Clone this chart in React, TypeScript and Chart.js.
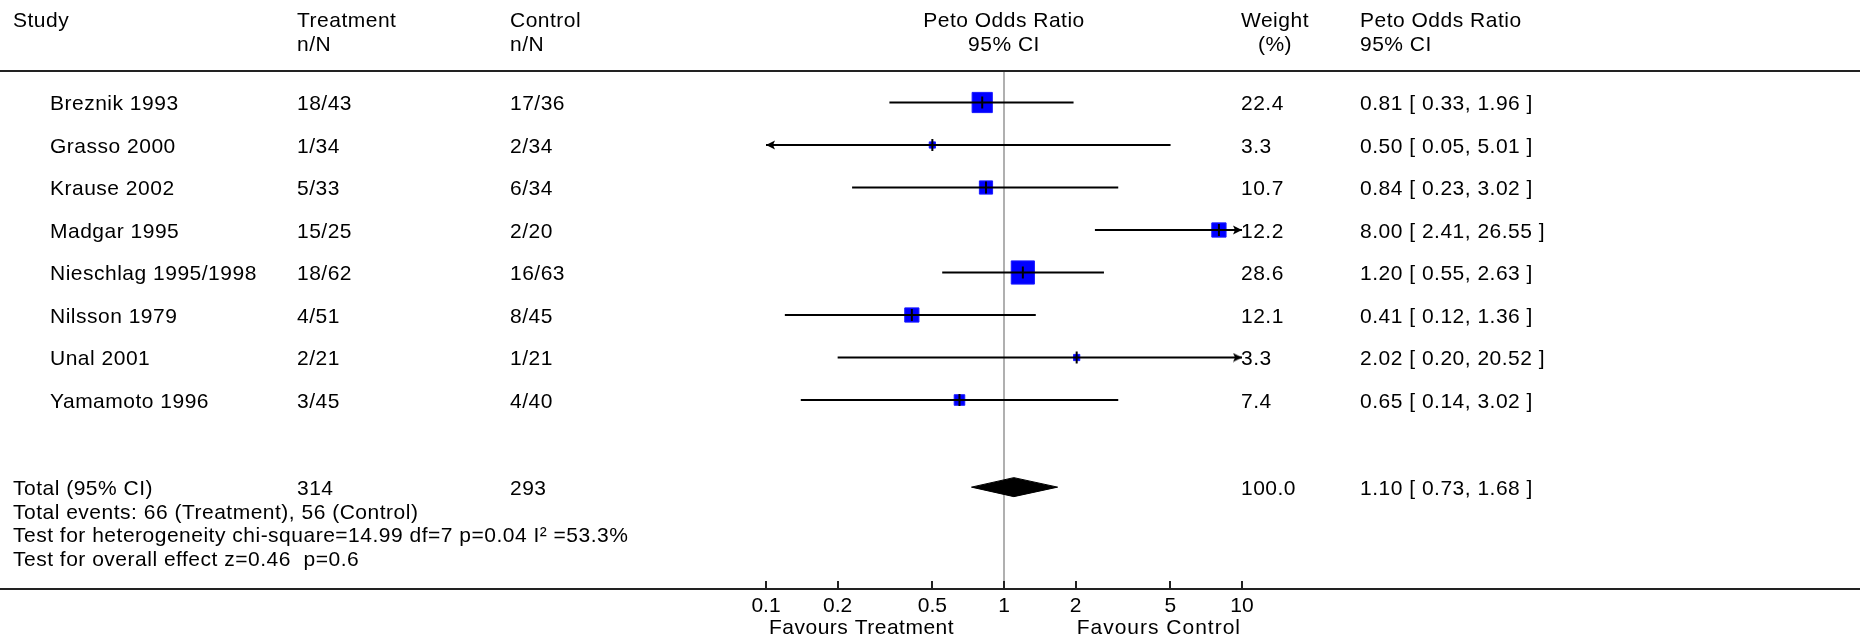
import React, { useEffect, useRef } from "react";
import { Chart, registerables } from "chart.js";

Chart.register(...registerables);

// ---------------- data ----------------
const studies = [
  "Breznik 1993",
  "Grasso 2000",
  "Krause 2002",
  "Madgar 1995",
  "Nieschlag 1995/1998",
  "Nilsson 1979",
  "Unal 2001",
  "Yamamoto 1996",
];
const treatmentNN = ["18/43", "1/34", "5/33", "15/25", "18/62", "4/51", "2/21", "3/45"];
const controlNN = ["17/36", "2/34", "6/34", "2/20", "16/63", "8/45", "1/21", "4/40"];
const oddsRatio = [0.81, 0.5, 0.84, 8.0, 1.2, 0.41, 2.02, 0.65];
const ciLower = [0.33, 0.05, 0.23, 2.41, 0.55, 0.12, 0.2, 0.14];
const ciUpper = [1.96, 5.01, 3.02, 26.55, 2.63, 1.36, 20.52, 3.02];
const weights = [22.4, 3.3, 10.7, 12.2, 28.6, 12.1, 3.3, 7.4];

const totalLabel = "Total (95% CI)";
const totalTreatment = "314";
const totalControl = "293";
const totalWeight = 100.0;
const pooledOR = 1.1;
const pooledLower = 0.73;
const pooledUpper = 1.68;
const footnotes = [
  "Total events: 66 (Treatment), 56 (Control)",
  "Test for heterogeneity chi-square=14.99 df=7 p=0.04 I\u00B2 =53.3%",
  "Test for overall effect z=0.46  p=0.6",
];

const xTicks = [0.1, 0.2, 0.5, 1, 2, 5, 10];
const axisLow = 0.1;
const axisHigh = 10;
const favoursLeft = "Favours Treatment";
const favoursRight = "Favours Control";

const headerStudy = "Study";
const headerTreatment = ["Treatment", "n/N"];
const headerControl = ["Control", "n/N"];
const headerPlot = ["Peto Odds Ratio", "95% CI"];
const headerWeight = ["Weight", "(%)"];
const headerCI = ["Peto Odds Ratio", "95% CI"];

// ---------------- layout ----------------
const W = 1860;
const H = 639;
const FONT_FAMILY = '"Liberation Sans", Arial, sans-serif';
const FONT_SIZE = 21;
const FONT = `${FONT_SIZE}px ${FONT_FAMILY}`;
const LETTER_SPACING = "0.5px";
const REF_X = 1004; // pixel of OR = 1
const DECADE_PX = 238; // pixels per decade
const HEADER_Y = 71;
const AXIS_Y = 589;
const ROW0_Y = 102.5;
const ROW_STEP = 42.5;
const TOTAL_ROW = 9.05;
const TICK_PAD = 5;
const LABEL_H = FONT_SIZE * 1.2;
const BOTTOM_PAD = H - AXIS_Y - (LABEL_H + 2 * TICK_PAD);

const X_MIN = Math.pow(10, (0 - REF_X) / DECADE_PX);
const X_MAX = Math.pow(10, (W - REF_X) / DECADE_PX);
const Y_MIN = -(ROW0_Y - HEADER_Y) / ROW_STEP;
const Y_MAX = Y_MIN + (AXIS_Y - HEADER_Y) / ROW_STEP;

const COL_STUDY = 13;
const COL_NAME = 50;
const COL_TREAT = 297;
const COL_CTRL = 510;
const COL_WEIGHT = 1241;
const COL_CI = 1360;
const HEAD_Y1 = 21;
const HEAD_Y2 = 45;
const FOOT_STEP = 23.7;
const FAVOURS_Y = 628;

const fmt2 = (v: number) => v.toFixed(2);
const ciText = (e: number, l: number, u: number) => `${fmt2(e)} [ ${fmt2(l)}, ${fmt2(u)} ]`;

function makeArrow(): HTMLCanvasElement {
  // arrow head whose tip sits exactly at the canvas centre, pointing right
  const c = document.createElement("canvas");
  c.width = 20;
  c.height = 10;
  const g = c.getContext("2d")!;
  g.fillStyle = "#000";
  g.beginPath();
  g.moveTo(10, 5);
  g.lineTo(1, 0.5);
  g.lineTo(3, 5);
  g.lineTo(1, 9.5);
  g.closePath();
  g.fill();
  return c;
}

const boxSide = (w: number) => Math.max(4, 4.8 * Math.sqrt(w) - 2.5);

export default function App() {
  const ref = useRef<HTMLCanvasElement | null>(null);

  useEffect(() => {
    const canvas = ref.current;
    if (!canvas) return;
    const arrow = makeArrow();
    const rows = studies.map((_, i) => i);

    const ciDatasets = rows.map((i) => ({
      label: "ci-" + i,
      data: [
        { x: Math.max(ciLower[i], axisLow), y: i },
        { x: Math.min(ciUpper[i], axisHigh), y: i },
      ],
      showLine: true,
      borderColor: "#000",
      borderWidth: 2,
      pointRadius: 0,
      order: 3,
    }));

    const arrowPts: { x: number; y: number }[] = [];
    const arrowRot: number[] = [];
    rows.forEach((i) => {
      if (ciLower[i] < axisLow) {
        arrowPts.push({ x: axisLow, y: i });
        arrowRot.push(180);
      }
      if (ciUpper[i] > axisHigh) {
        arrowPts.push({ x: axisHigh, y: i });
        arrowRot.push(0);
      }
    });

    const h = 9.5 / ROW_STEP;

    const tablePlugin = {
      id: "forestTable",
      afterDraw(chart: any) {
        const { ctx, scales } = chart;
        const x = scales.x;
        const y = scales.y;
        ctx.save();
        // header rule
        ctx.fillStyle = "#222";
        ctx.fillRect(0, HEADER_Y - 1, W, 2);
        // tick marks on axis
        ctx.strokeStyle = "#222";
        ctx.lineWidth = 2;
        x.ticks.forEach((t: any) => {
          const px = Math.round(x.getPixelForValue(t.value));
          ctx.beginPath();
          ctx.moveTo(px, chart.chartArea.bottom - 8);
          ctx.lineTo(px, chart.chartArea.bottom);
          ctx.stroke();
        });

        ctx.fillStyle = "#000";
        ctx.font = FONT;
        const setSpacing = (s: string) => {
          try {
            (ctx as any).letterSpacing = s;
          } catch (e) {}
        };
        setSpacing(LETTER_SPACING);
        ctx.textBaseline = "middle";
        const txt = (s: string, px: number, py: number, align: CanvasTextAlign = "left") => {
          ctx.textAlign = align;
          ctx.fillText(s, px, py);
        };
        // header
        const refPx = x.getPixelForValue(1);
        txt(headerStudy, COL_STUDY, HEAD_Y1);
        txt(headerTreatment[0], COL_TREAT, HEAD_Y1);
        txt(headerTreatment[1], COL_TREAT, HEAD_Y2);
        txt(headerControl[0], COL_CTRL, HEAD_Y1);
        txt(headerControl[1], COL_CTRL, HEAD_Y2);
        txt(headerPlot[0], refPx, HEAD_Y1, "center");
        txt(headerPlot[1], refPx, HEAD_Y2, "center");
        txt(headerWeight[0], COL_WEIGHT, HEAD_Y1);
        const wW = ctx.measureText(headerWeight[0]).width;
        txt(headerWeight[1], COL_WEIGHT + wW / 2, HEAD_Y2, "center");
        txt(headerCI[0], COL_CI, HEAD_Y1);
        txt(headerCI[1], COL_CI, HEAD_Y2);

        // study rows
        rows.forEach((i) => {
          const py = y.getPixelForValue(i) + 2;
          txt(studies[i], COL_NAME, py);
          txt(treatmentNN[i], COL_TREAT, py);
          txt(controlNN[i], COL_CTRL, py);
          txt(weights[i].toFixed(1), COL_WEIGHT, py);
          txt(ciText(oddsRatio[i], ciLower[i], ciUpper[i]), COL_CI, py);
        });

        // total row + footnotes
        const ty = y.getPixelForValue(TOTAL_ROW) + 2;
        txt(totalLabel, COL_STUDY, ty);
        txt(totalTreatment, COL_TREAT, ty);
        txt(totalControl, COL_CTRL, ty);
        txt(totalWeight.toFixed(1), COL_WEIGHT, ty);
        txt(ciText(pooledOR, pooledLower, pooledUpper), COL_CI, ty);
        footnotes.forEach((f, k) => txt(f, COL_STUDY, ty + FOOT_STEP * (k + 1)));

        // favours labels
        txt(favoursLeft, x.getPixelForValue(axisLow) + 3, FAVOURS_Y, "left");
        setSpacing("1px");
        const midRight = (x.getPixelForValue(2) + x.getPixelForValue(axisHigh)) / 2;
        txt(favoursRight, midRight, FAVOURS_Y, "center");
        ctx.restore();
      },
    };

    const chart = new Chart(canvas, {
      type: "scatter",
      data: {
        datasets: [
          {
            label: "pooled",
            data: [
              { x: pooledLower, y: TOTAL_ROW },
              { x: pooledOR, y: TOTAL_ROW - h },
              { x: pooledUpper, y: TOTAL_ROW },
              { x: pooledOR, y: TOTAL_ROW + h },
              { x: pooledLower, y: TOTAL_ROW },
            ],
            showLine: true,
            fill: "shape",
            tension: 0,
            backgroundColor: "#000",
            borderColor: "#000",
            borderWidth: 1,
            pointRadius: 0,
            order: 0,
          } as any,
          {
            label: "arrows",
            data: arrowPts,
            pointStyle: arrow as any,
            pointRotation: arrowRot as any,
            pointRadius: 5,
            order: 1,
          } as any,
          {
            label: "estimate ticks",
            data: rows.map((i) => ({ x: oddsRatio[i], y: i })),
            pointStyle: "line",
            pointRotation: 90,
            pointRadius: 6,
            pointBorderWidth: 2,
            pointBorderColor: "#000",
            order: 2,
          } as any,
          ...(ciDatasets as any[]),
          {
            label: "boxes",
            data: rows.map((i) => ({ x: oddsRatio[i], y: i })),
            pointStyle: "rect",
            pointRadius: rows.map((i) => boxSide(weights[i]) / Math.SQRT2),
            pointBackgroundColor: "#0000ff",
            pointBorderColor: "#1a1aff",
            pointBorderWidth: 1,
            order: 4,
          } as any,
          {
            label: "no effect",
            data: [
              { x: 1, y: Y_MIN },
              { x: 1, y: Y_MAX },
            ],
            showLine: true,
            borderColor: "#b0b0b0",
            borderWidth: 2,
            pointRadius: 0,
            order: 10,
          },
        ],
      },
      options: {
        responsive: false,
        animation: false,
        events: [],
        layout: {
          autoPadding: false,
          padding: { top: HEADER_Y, bottom: BOTTOM_PAD, left: 0, right: 0 },
        },
        plugins: {
          legend: { display: false },
          tooltip: { enabled: false },
          title: { display: false },
        },
        scales: {
          x: {
            type: "logarithmic",
            position: "bottom",
            min: X_MIN,
            max: X_MAX,
            bounds: "data",
            afterBuildTicks: (s: any) => {
              s.ticks = xTicks.map((v) => ({ value: v }));
            },
            ticks: {
              autoSkip: false,
              maxRotation: 0,
              minRotation: 0,
              padding: TICK_PAD,
              color: "#000",
              font: { family: FONT_FAMILY, size: FONT_SIZE },
              callback: (v: any) => String(v),
            },
            grid: { display: false, drawTicks: false },
            border: { display: true, color: "#222", width: 2 },
          },
          y: {
            type: "linear",
            reverse: true,
            min: Y_MIN,
            max: Y_MAX,
            display: false,
          },
        },
      } as any,
      plugins: [tablePlugin],
    });
    return () => chart.destroy();
  }, []);

  return (
    <div style={{ position: "fixed", left: 0, top: 0, width: W, height: H, background: "#fff" }}>
      <canvas ref={ref} width={W} height={H} style={{ display: "block", width: W, height: H }} />
    </div>
  );
}
